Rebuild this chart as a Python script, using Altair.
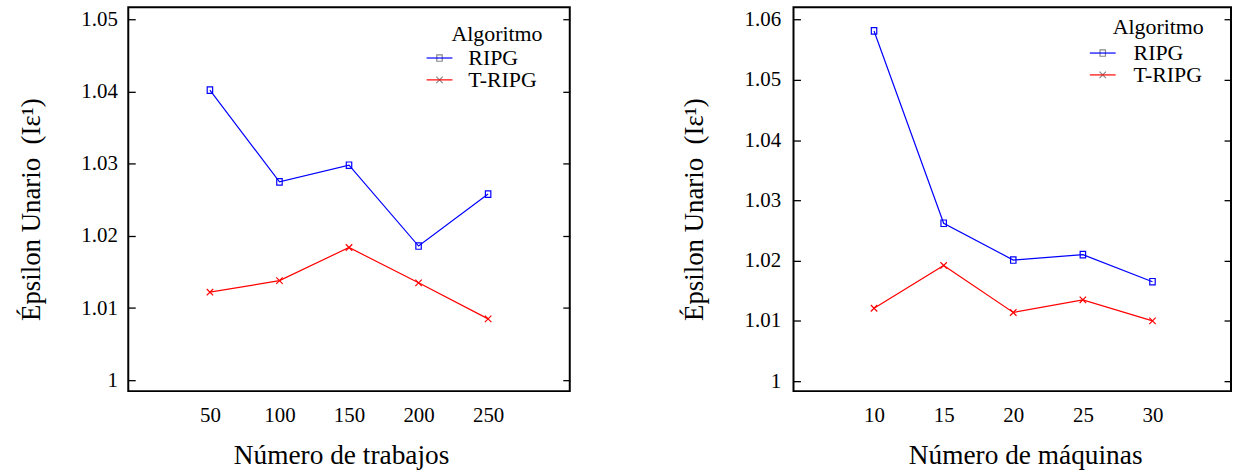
import altair as alt
import pandas as pd

# ---- data ----
algorithms = ["RIPG", "T-RIPG"]
colors = ["#0000ff", "#ff0000"]

jobs = [50, 100, 150, 200, 250]
ripg_jobs = [1.0402, 1.0275, 1.0298, 1.0186, 1.0258]
tripg_jobs = [1.0122, 1.0138, 1.0184, 1.0135, 1.0085]

machines = [10, 15, 20, 25, 30]
ripg_mach = [1.0581, 1.0262, 1.0201, 1.0210, 1.0165]
tripg_mach = [1.0121, 1.0192, 1.0114, 1.0135, 1.0100]

y_ticks_jobs = [1.0, 1.01, 1.02, 1.03, 1.04, 1.05]
y_ticks_mach = [1.0, 1.01, 1.02, 1.03, 1.04, 1.05, 1.06]

FONT = "Liberation Serif"
SQUARE = "M-0.42,-0.5H0.42V0.5H-0.42Z"
CROSS = "M-0.5,-0.5L0.5,0.5M-0.5,0.5L0.5,-0.5"
LEGEND_LINE = "M-2,0H2"
MSIZE = 169
LEG_TITLE = "Algoritmo"


def make_df(xs, a, b):
    rows = []
    for x, v in zip(xs, a):
        rows.append({"x": x, "y": v, "Algoritmo": "RIPG", "Alg": "RIPG"})
    for x, v in zip(xs, b):
        rows.append({"x": x, "y": v, "Algoritmo": "T-RIPG", "Alg": "T-RIPG"})
    return pd.DataFrame(rows)


YTITLE = "Épsilon Unario\u00a0\u00a0(Iε¹)"


def panel(df, xdom, xvals, xtitle, xtitle_x, ydom, yvals, width,
          lx, ly, tx, ty, loff, lpad):
    base = alt.Chart(df)
    x = alt.X(
        "x:Q",
        scale=alt.Scale(domain=xdom, nice=False, zero=False),
        axis=alt.Axis(
            values=xvals, format="d", title=xtitle, ticks=False, tickSize=0,
            domain=False, grid=False, labelPadding=14, titlePadding=16,
            titleX=xtitle_x,
            labelFontSize=21, titleFontSize=27.5, labelFont=FONT, titleFont=FONT,
            labelColor="black", titleColor="black", titleFontWeight="normal",
        ),
    )
    yscale = alt.Scale(domain=ydom, nice=False, zero=False)
    common_leg = dict(
        orient="none", direction="vertical",
        titleFont=FONT, titleFontSize=22, titleFontWeight="normal",
        titleColor="black", labelFont=FONT, labelFontSize=22, labelColor="black",
        symbolSize=MSIZE, symbolStrokeWidth=1.2, labelOffset=loff, padding=0,
        rowPadding=0, titlePadding=0,
    )
    line = base.mark_line(strokeWidth=1.2).encode(
        x=x,
        y=alt.Y(
            "y:Q", scale=yscale,
            axis=alt.Axis(
                orient="left", values=yvals, format=".3~f", title=YTITLE,
                tickSize=7, offset=-7, domain=False, grid=False, tickColor="black",
                tickWidth=1.3, labelPadding=lpad, titlePadding=36, titleY=203,
                labelFontSize=21, titleFontSize=27, labelFont=FONT, titleFont=FONT,
                labelColor="black", titleColor="black", titleFontWeight="normal",
            ),
        ),
        color=alt.Color(
            "Algoritmo:N",
            scale=alt.Scale(domain=algorithms, range=colors),
            legend=alt.Legend(symbolType=LEGEND_LINE, legendX=lx, legendY=ly,
                              title=None, **common_leg),
        ),
    )
    pts = base.mark_point(filled=False, size=MSIZE, strokeWidth=1.2, opacity=1).encode(
        x=x,
        y=alt.Y(
            "y:Q", scale=yscale,
            axis=alt.Axis(
                orient="right", values=yvals, labels=False, title=None,
                tickSize=7, offset=-7, domain=False, grid=False, tickColor="black",
                tickWidth=1.3,
            ),
        ),
        color=alt.Color(
            "Alg:N",
            scale=alt.Scale(domain=algorithms, range=colors),
            legend=alt.Legend(legendX=tx, legendY=ty, title=LEG_TITLE,
                              symbolOpacity=0, labelExpr="''", **common_leg),
        ),
        shape=alt.Shape(
            "Alg:N",
            scale=alt.Scale(domain=algorithms, range=[SQUARE, CROSS]),
            legend=alt.Legend(legendX=lx, legendY=ly, title=None,
                              labelExpr="''", **common_leg),
        ),
    )
    return (
        alt.layer(line, pts)
        .resolve_scale(y="shared", color="independent")
        .resolve_axis(y="independent")
        .properties(width=width, height=386,
                    view=alt.ViewBackground(stroke="black", strokeWidth=2))
    )


left = panel(make_df(jobs, ripg_jobs, tripg_jobs), [-8.7, 308.7], jobs,
             "Número de trabajos", 214, [0.99849, 1.05169], y_ticks_jobs, 444,
             302, 40, 325, 17, 18, 11)
right = panel(make_df(machines, ripg_mach, tripg_mach), [4.214, 35.64], machines,
              "Número de máquinas", 233, [0.998355, 1.06202], y_ticks_mach, 440,
              300, 35, 321, 10, 20, 13)

chart = (
    alt.hconcat(left, right, spacing=108)
    .resolve_scale(color="independent", shape="independent")
    .configure(font=FONT)
    .configure_view(stroke="black", strokeWidth=2)
    .configure_axis(labelFont=FONT, titleFont=FONT)
    .configure_legend(labelFont=FONT, titleFont=FONT)
    .properties(padding={"left": 16, "top": 5, "right": 0, "bottom": 0}, background="white")
)

chart.save("out.html", embed_options={"renderer": "svg", "actions": False})
